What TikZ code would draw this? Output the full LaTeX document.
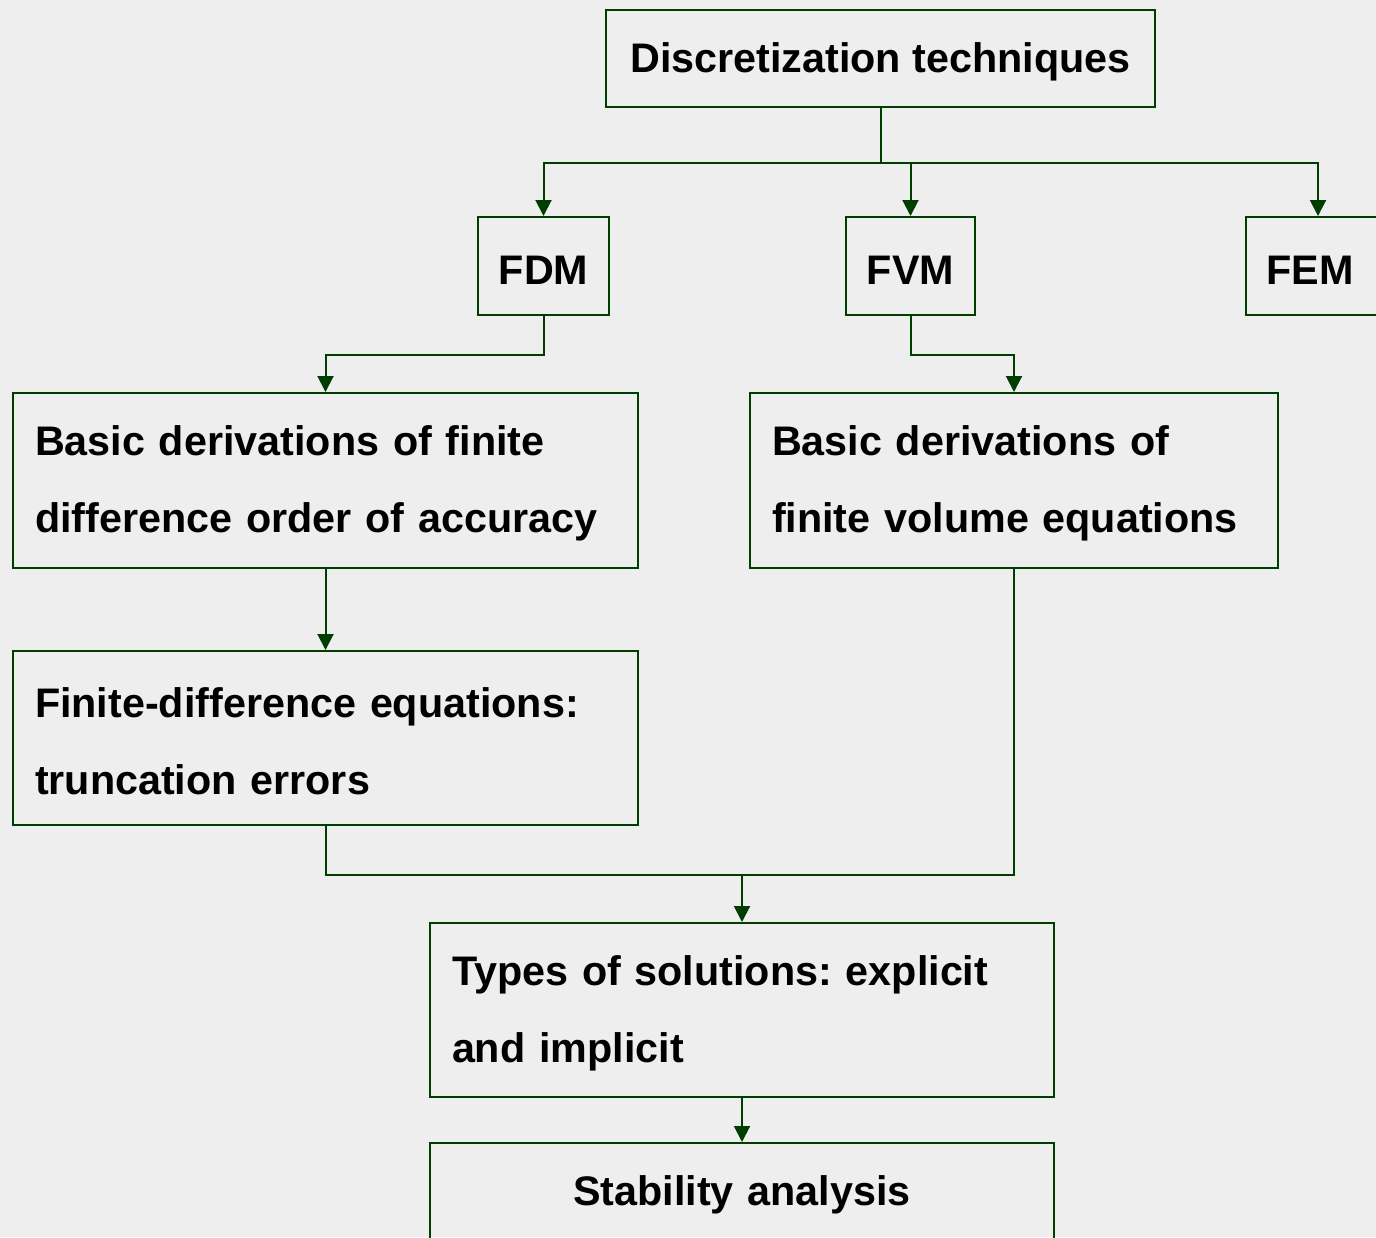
\documentclass[tikz,border=0pt]{standalone}
\usepackage{fontspec}
\setmainfont{Liberation Sans}
\usetikzlibrary{arrows.meta}
\definecolor{bgc}{RGB}{238,238,238}
\definecolor{lnc}{RGB}{0,62,0}
\frenchspacing
\begin{document}
\begin{tikzpicture}[x=0.5pt,y=-0.5pt,
  box/.style={draw=lnc, line width=1pt, inner sep=0pt, inner xsep=11pt, text=black,
    font=\fontsize{20.65}{38.5}\selectfont\bfseries,
    execute at begin node={\rule{0pt}{18.2pt}}},
  cbox/.style={box, align=center},
  lbox/.style={box, align=left},
  conn/.style={draw=lnc, line width=1pt},
  arr/.style={conn, -{Triangle[width=8pt,length=8pt]}}]
\path[fill=bgc] (0,0) rectangle (1376,1237);
\useasboundingbox (0,0) rectangle (1376,1237);
\clip (0,0) rectangle (1376,1237);

\node[cbox, minimum width=274.5pt, minimum height=48.5pt] (disc) at (880.5,58.5) {Discretization techniques};
\node[cbox, inner xsep=4pt, minimum width=65.5pt, minimum height=49pt] (fdm) at (543.5,266) {FDM};
\node[cbox, inner xsep=4pt, minimum width=64.5pt, minimum height=49pt] (fvm) at (910.5,266) {FVM};
\node[cbox, minimum width=72pt, minimum height=49pt, text width=50pt] (fem) at (1318,266) {\hspace*{-8pt}FEM\hfill};
\node[lbox, text width=290.5pt, minimum height=87.5pt] (bfd) at (325.5,480.5) {Basic derivations of finite\\difference order of accuracy};
\node[lbox, text width=242pt, minimum height=87.5pt] (bfv) at (1014,480.5) {Basic derivations of\\finite volume equations};
\node[lbox, text width=290.5pt, minimum height=87pt] (fde) at (325.5,738) {Finite-difference equations:\\truncation errors};
\node[lbox, text width=290pt, minimum height=87pt] (types) at (742,1010) {Types of solutions: explicit\\and implicit};
\node[cbox, text width=290pt, minimum height=48.5pt] (stab) at (742,1191.5) {Stability analysis};

\draw[conn] (disc.south) -- ++(0,55) coordinate (b1);
\draw[arr] (b1) -| (fdm.north);
\draw[arr] (b1) -| (fvm.north);
\draw[arr] (b1) -| (fem.north);
\draw[arr] (fdm.south) -- ++(0,39) -| (bfd.north);
\draw[arr] (fvm.south) -- ++(0,39) -| (bfv.north);
\draw[arr] (bfd.south) -- (fde.north);
\draw[conn] (fde.south) -- ++(0,49) coordinate (c1) -| (bfv.south);
\draw[arr] (types.north |- c1) -- (types.north);
\draw[arr] (types.south) -- (stab.north);
\end{tikzpicture}
\end{document}
